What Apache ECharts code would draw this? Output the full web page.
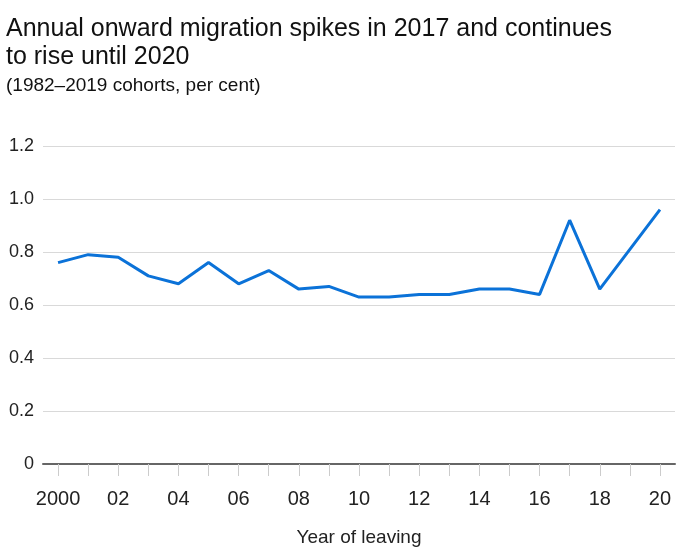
<!DOCTYPE html>
<html>
<head>
<meta charset="utf-8">
<script src="https://cdn.jsdelivr.net/npm/echarts@6/dist/echarts.min.js"></script>
<style>html,body{margin:0;padding:0;background:#fff}#c{width:699px;height:555px}</style>
</head>
<body>
<div id="c"></div>
<script>
const years = ['2000','01','02','03','04','05','06','07','08','09','10','11','12','13','14','15','16','17','18','19','20'];
const values = [0.76,0.79,0.78,0.71,0.68,0.76,0.68,0.73,0.66,0.67,0.63,0.63,0.64,0.64,0.66,0.66,0.64,0.92,0.66,0.81,0.96];
const yTicks = [0,0.2,0.4,0.6,0.8,1.0,1.2];
const titleText = 'Annual onward migration spikes in 2017 and continues\nto rise until 2020';
const subtitleText = '(1982\u20132019 cohorts, per cent)';
const xName = 'Year of leaving';

const FONT = '"Liberation Sans", Arial, sans-serif';
const chart = echarts.init(document.getElementById('c'), null, {renderer:'canvas'});
chart.setOption({
  animation:false,
  backgroundColor:'#fff',
  title:[
    {text:titleText,left:6,top:15,padding:0,textStyle:{fontFamily:FONT,fontSize:25,lineHeight:28,fontWeight:'normal',color:'#111'}},
    {text:subtitleText,left:6,top:75,padding:0,textStyle:{fontFamily:FONT,fontSize:19,lineHeight:22,fontWeight:'normal',color:'#111'}}
  ],
  grid:{left:43,right:24,top:146,bottom:91,containLabel:false},
  xAxis:{
    type:'category',data:years,boundaryGap:true,
    name:xName,nameLocation:'middle',nameGap:64,
    nameTextStyle:{fontFamily:FONT,fontSize:19,color:'#222'},
    axisLine:{lineStyle:{color:'#666',width:2}},
    axisTick:{show:true,alignWithLabel:true,interval:0,length:12,lineStyle:{color:'#ccc',width:1}},
    axisLabel:{interval:1,margin:25,fontFamily:FONT,fontSize:20,color:'#222'},
    splitLine:{show:false}
  },
  yAxis:{
    type:'value',min:0,max:1.2,interval:0.2,
    axisLine:{show:false},axisTick:{show:false},
    axisLabel:{margin:9,fontFamily:FONT,fontSize:18,color:'#222',
      formatter:v=>{const t=yTicks.find(x=>Math.abs(x-v)<1e-9);return t===0?'0':t.toFixed(1);}},
    splitLine:{lineStyle:{color:'#d9d9d9',width:1}}
  },
  series:[{type:'line',data:values,symbol:'none',lineStyle:{color:'#0b72d8',width:3},itemStyle:{color:'#0b72d8'}}]
});
</script>
</body>
</html>
